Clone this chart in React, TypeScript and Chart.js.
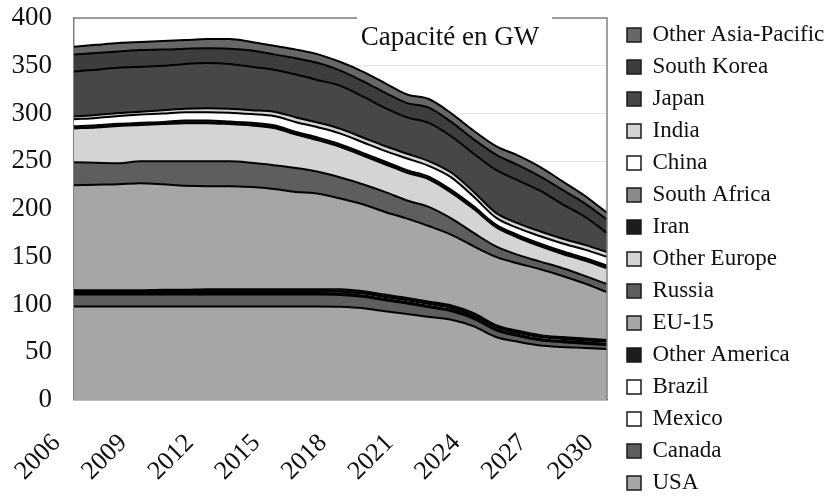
import React, { useEffect, useRef } from 'react';
import { Chart, registerables } from 'chart.js';

Chart.register(...registerables);

const years = ['2006', '2007', '2008', '2009', '2010', '2011', '2012', '2013', '2014', '2015', '2016', '2017', '2018', '2019', '2020', '2021', '2022', '2023', '2024', '2025', '2026', '2027', '2028', '2029', '2030'];

const usa = [98, 98, 98, 98, 98, 98, 98, 98, 98, 98, 98, 98, 97.5, 96, 93, 90, 87, 84, 77, 66, 61, 57, 55.5, 54.5, 53.5];
const canada = [12.5, 12.5, 12.5, 12.5, 12.5, 12.5, 12.5, 12.5, 12.5, 12.5, 12.5, 12.5, 12.5, 12, 11.5, 11, 10, 9, 8, 7, 6, 5.5, 5, 4.5, 4];
const mexico = [1.4, 1.4, 1.4, 1.4, 1.4, 1.4, 1.4, 1.4, 1.4, 1.4, 1.4, 1.4, 1.4, 1.4, 1.4, 1.4, 1.4, 1.4, 1.4, 1.4, 1.4, 1.4, 1.4, 1.4, 1.4];
const brazil = [2, 2, 2, 2, 2, 2, 2, 2, 2, 2, 2, 2, 2, 2, 2, 2, 2, 2, 2, 2, 2, 2, 2, 2, 2];
const otherAmerica = [1, 1, 1, 1, 1.5, 1.5, 2, 2, 2, 2, 2, 2, 2.5, 2.5, 2.5, 2.5, 2.5, 2.5, 2.5, 2, 2, 2, 2, 2, 2];
const eu15 = [110, 110.5, 111, 112, 110.5, 109, 108, 108, 107, 105, 102, 100, 95, 91, 86.5, 83, 79, 74, 70, 71.5, 70.5, 69, 64, 57.5, 50];
const russia = [24, 23, 22, 23, 24, 25.5, 26, 26, 25.5, 25, 25, 23, 22, 21, 21, 19, 20, 17, 14, 11, 9, 8, 8, 8, 8.5];
const otherEurope = [35.5, 37, 39, 38, 39, 40, 40, 39, 39, 39, 35, 33, 32, 30, 29, 29, 29, 27, 25, 20, 18, 16, 15, 16, 16.5];
const iran = [0.5, 0.5, 0.5, 0.5, 0.5, 1, 1, 1, 1, 1, 1, 1, 1, 1, 1, 1, 1, 1, 1, 1, 1, 1, 1, 1, 1];
const southAfrica = [1.8, 1.8, 1.8, 1.8, 1.8, 1.8, 1.8, 1.8, 1.8, 1.8, 1.8, 1.8, 1.8, 1.8, 1.8, 1.8, 1.8, 1.8, 1.8, 1.8, 1.8, 1.8, 1.8, 1.8, 1.8];
const china = [7.2, 7.7, 8.2, 8.7, 8.7, 8.7, 8.7, 9.2, 9.2, 9.7, 10.2, 10.7, 11.2, 11.2, 11.2, 12.2, 11.2, 13.2, 10.2, 7.2, 7.2, 7.7, 8.2, 8.7, 9.2];
const india = [3, 3, 3, 3, 3.5, 3.5, 4, 4, 4, 4.5, 5, 5, 5, 5, 5, 5, 5, 5, 5, 5, 5, 5, 5, 5, 5];
const japan = [47, 47.5, 47.5, 47, 46.5, 47, 47.5, 47, 45.5, 44, 45, 44.5, 45, 43, 40, 38, 40, 38, 40, 45, 45, 42.5, 36, 29.5, 20];
const southKorea = [18, 17.5, 17, 17.5, 17, 16, 15.5, 16, 17, 16, 17, 18, 16, 16, 16, 15, 16, 15, 15, 16, 16, 15, 15, 14, 14];
const otherAsiaPacific = [8, 8.5, 9, 8.5, 9, 9, 9.5, 10, 9, 9, 9, 9, 9, 10, 10, 9, 9, 9, 9, 9, 10, 10, 9, 8, 7];

const seriesNames = ['USA', 'Canada', 'Mexico', 'Brazil', 'Other America', 'EU-15', 'Russia', 'Other Europe', 'Iran', 'South Africa', 'China', 'India', 'Japan', 'South Korea', 'Other Asia-Pacific'];
const seriesValues = [usa, canada, mexico, brazil, otherAmerica, eu15, russia, otherEurope, iran, southAfrica, china, india, japan, southKorea, otherAsiaPacific];
const seriesColors = ['#a6a6a6', '#5e5e5e', '#ffffff', '#ffffff', '#1c1c1c', '#a6a6a6', '#5e5e5e', '#d4d4d4', '#1c1c1c', '#8a8a8a', '#ffffff', '#d4d4d4', '#474747', '#3d3d3d', '#676767'];

const yTicks = [0, 50, 100, 150, 200, 250, 300, 350, 400];
const tickYears = ['2006', '2009', '2012', '2015', '2018', '2021', '2024', '2027', '2030'];
const chartTitle = 'Capacité en GW';

const FONT = '"Liberation Serif", "Times New Roman", serif';
const LEGEND_W = 220;

const decorPlugin = {
  id: 'decor',
  beforeLayout(chart: any) {
    const lg = chart.legend;
    if (lg && !lg._patched) {
      const orig = lg.fit;
      lg.fit = function () {
        const mh = this.maxHeight;
        this.maxHeight = 2000;
        orig.call(this);
        this.maxHeight = mh;
        this.width = LEGEND_W;
        this.height = mh;
      };
      lg._patched = true;
    }
  },
  afterLayout(chart: any) {
    const lg = chart.legend;
    if (!lg) return;
    const left = chart.chartArea.right + 11;
    lg.left = left;
    lg.right = left + LEGEND_W;
    lg.top = 0;
    lg.bottom = 518;
  },
  afterDraw(chart: any) {
    const { ctx, chartArea: a } = chart;
    ctx.save();
    ctx.strokeStyle = '#808080';
    ctx.lineWidth = 1.5;
    ctx.beginPath();
    ctx.moveTo(a.left, a.top);
    ctx.lineTo(a.right, a.top);
    ctx.lineTo(a.right, a.bottom);
    ctx.stroke();
    ctx.fillStyle = '#ffffff';
    ctx.fillRect(a.left + 283, a.top - 6, 195, 12);
    ctx.fillStyle = '#111111';
    ctx.font = '27px ' + FONT;
    ctx.textAlign = 'center';
    ctx.textBaseline = 'alphabetic';
    ctx.fillText(chartTitle, a.left + 376, a.top + 27);
    ctx.restore();
  },
};

export default function App() {
  const ref = useRef<HTMLCanvasElement | null>(null);

  useEffect(() => {
    if (!ref.current) return;
    const datasets = seriesNames.map((name, i) => ({
      label: name,
      data: seriesValues[i],
      backgroundColor: seriesColors[i],
      borderColor: '#000000',
      borderWidth: 2,
      pointRadius: 0,
      pointHoverRadius: 0,
      fill: i === 0 ? 'origin' : '-1',
      cubicInterpolationMode: 'monotone' as const,
    }));

    const chart = new Chart(ref.current, {
      type: 'line',
      data: { labels: years, datasets },
      options: {
        animation: false,
        responsive: false,
        maintainAspectRatio: false,
        layout: { padding: { left: 10.5, top: 18, right: 0, bottom: 10.2 } },
        plugins: {
          tooltip: { enabled: false },
          title: { display: false },
          legend: {
            display: true,
            position: 'right',
            reverse: true,
            labels: {
              boxWidth: 14,
              boxHeight: 14,
              padding: 9,
              color: '#111111',
              font: { family: FONT, size: 23 },
              generateLabels: (c: any) =>
                c.data.datasets.map((ds: any, i: number) => ({
                  text: ds.label,
                  fillStyle: ds.backgroundColor,
                  strokeStyle: '#1a1a1a',
                  lineWidth: 1.5,
                  hidden: false,
                  datasetIndex: i,
                  fontColor: '#111111',
                })),
            },
          },
        },
        scales: {
          x: {
            type: 'category',
            offset: false,
            grid: { drawOnChartArea: false, drawTicks: true, tickLength: 27, tickColor: 'rgba(0,0,0,0)' },
            border: { display: true, color: '#808080', width: 1.5 },
            ticks: {
              autoSkip: false,
              maxRotation: 45,
              minRotation: 45,
              padding: 1,
              labelOffset: -17.5,
              color: '#111111',
              font: { family: FONT, size: 26 },
              callback: function (this: any, value: any) {
                const lab = this.getLabelForValue(value);
                return tickYears.includes(lab) ? lab : '';
              },
            },
          },
          y: {
            stacked: true,
            min: yTicks[0],
            max: yTicks[yTicks.length - 1],
            grid: { color: '#e6e6e6', drawTicks: true, tickLength: 21, tickColor: 'rgba(0,0,0,0)' },
            border: { display: true, color: '#808080', width: 1.5 },
            ticks: {
              stepSize: 50,
              padding: 1,
              color: '#111111',
              font: { family: FONT, size: 27 },
            },
          },
        },
      },
      plugins: [decorPlugin],
    } as any);

    return () => chart.destroy();
  }, []);

  return (
    <div style={{ position: 'fixed', left: 0, top: 0, width: 827, height: 498, background: '#ffffff' }}>
      <canvas ref={ref} width={827} height={498} style={{ display: 'block', width: 827, height: 498 }} />
    </div>
  );
}
